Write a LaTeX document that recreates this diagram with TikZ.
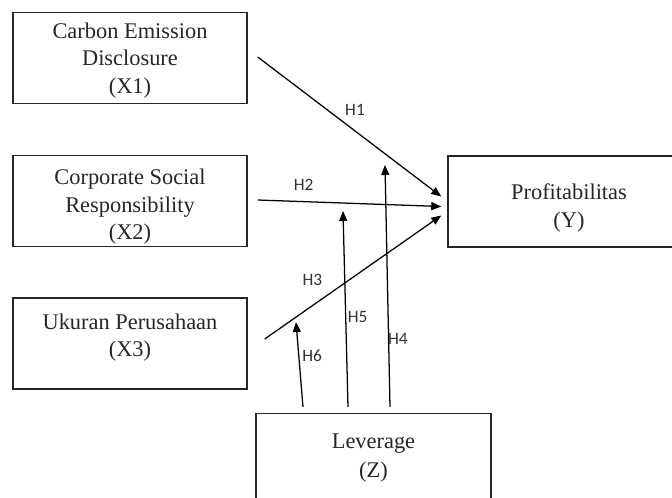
\documentclass[tikz,border=0pt]{standalone}
\usepackage{fontspec}
\setmainfont{Liberation Serif}
\newfontfamily\hlabelfont{Carlito}
\usetikzlibrary{arrows.meta,calc}

\begin{document}
\begin{tikzpicture}[
  x=0.75pt, y=-0.75pt,
  varbox/.style={rectangle, draw=black!85, line width=1.1pt, minimum width=175.5pt, minimum height=68pt,
    align=center, font=\fontsize{16.8}{20.6}\selectfont, text=black!85, text depth=0pt},
  arrow/.style={-{Triangle[length=7.5pt,width=6pt]}, line width=0.95pt},
  hlabel/.style={font=\hlabelfont\fontsize{13}{15}\selectfont, text=black!80}
]
\useasboundingbox (0,0) rectangle (672,497);
\clip (0,0) rectangle (672,497);

% Variables
\node[varbox, text height=52.5pt] (x1_box) at (130,58) {Carbon Emission\\Disclosure\\(X1)};
\node[varbox, text height=58pt] (x2_box) at (130,201) {Corporate Social\\Responsibility\\(X2)};
\node[varbox, text height=20pt] (x3_box) at (130,343.5) {Ukuran Perusahaan\\(X3)};
\node[varbox, text height=39.5pt, minimum width=181.5pt] (y_box) at (569,201.5) {Profitabilitas\\[0.5pt](Y)};
\node[varbox, text height=27pt, minimum width=176pt] (z_box) at (373.5,459) {Leverage\\[1pt](Z)};

% Direct effects
\draw[arrow] ($(x1_box.east)+(10,-1)$) -- ($(y_box.west)+(-6,-5)$)
  node[hlabel, pos=0.53, yshift=16pt] (h1_lbl) {H1};
\draw[arrow] ($(x2_box.east)+(10,-1)$) -- ($(y_box.west)+(-6,5)$)
  node[hlabel, pos=0.25, yshift=12.5pt] (h2_lbl) {H2};
\draw[arrow] ($(x3_box.east)+(17,-4.5)$) -- ($(y_box.west)+(-6,14)$)
  node[hlabel, pos=0.27, yshift=19.5pt] (h3_lbl) {H3};

% Moderation by leverage
\coordinate (h6_tip) at (296,322);
\coordinate (h5_tip) at (343,211);
\coordinate (h4_tip) at (385,165);

\draw[arrow] ($(z_box.north)+(-70.5,-6)$) -- (h6_tip)
  node[hlabel, pos=0.6, xshift=10pt] (h6_lbl) {H6};
\draw[arrow] ($(z_box.north)+(-25.5,-6)$) -- (h5_tip)
  node[hlabel, pos=0.46, xshift=9pt] (h5_lbl) {H5};
\draw[arrow] ($(z_box.north)+(16.5,-6)$) -- (h4_tip)
  node[hlabel, pos=0.28, xshift=7pt] (h4_lbl) {H4};

\end{tikzpicture}
\end{document}
